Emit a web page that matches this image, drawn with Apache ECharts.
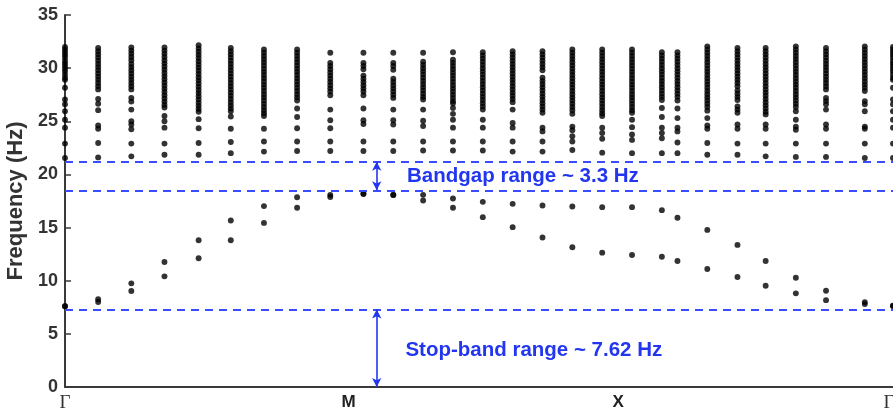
<!DOCTYPE html>
<html>
<head>
<meta charset="utf-8">
<script src="https://cdn.jsdelivr.net/npm/echarts@6/dist/echarts.min.js"></script>
<style>html,body{margin:0;padding:0;background:#fff}#c{width:893px;height:414px}</style>
</head>
<body>
<div id="c"></div>
<script>
// k-path position of each sampled column (Γ → M → X → Γ)
const kpos = [0, 1.0, 2.0, 3.0, 4.03, 5.0, 6.0, 7.0, 8.0, 9.0, 9.9, 10.8, 11.7, 12.6, 13.5, 14.4, 15.3, 16.2, 17.1, 18.0, 18.47, 19.37, 20.28, 21.13, 22.04, 22.95, 24.12, 24.97];

// two lowest branches (Hz)
const lowerA = [7.6, 8.25, 9.75, 11.76, 13.81, 15.66, 17.02, 17.85, 18.08, 18.2, 18.1, 18.08, 17.74, 17.42, 17.23, 17.08, 16.98, 16.92, 16.92, 16.64, 15.92, 14.78, 13.37, 11.86, 10.28, 9.05, 7.99, 7.65];
const lowerB = [7.6, 8.0, 9.03, 10.41, 12.11, 13.81, 15.44, 16.86, 17.87, 18.15, 18.05, 17.55, 16.86, 15.98, 15.04, 14.06, 13.15, 12.64, 12.42, 12.26, 11.86, 11.1, 10.35, 9.53, 8.81, 8.17, 7.8, 7.62];

// upper modes per column (Hz)
const upperBands = [
  [32.0,31.75,31.5,31.25,31.0,30.7,30.45,30.2,29.95,29.7,29.4,29.1,28.9,28.15,27.05,26.6,25.95,25.15,24.4,22.9,21.55],
  [31.9,31.6,31.3,31.0,30.7,30.4,30.1,29.8,29.5,29.2,28.9,28.6,28.3,28.0,27.1,26.65,26.05,24.6,24.3,22.95,21.6],
  [31.95,31.65,31.35,31.05,30.75,30.4,30.1,29.8,29.5,29.2,28.9,28.6,28.3,28.0,27.2,26.85,26.1,25.0,24.7,24.25,22.9,21.7],
  [31.95,31.65,31.35,31.05,30.75,30.45,30.15,29.85,29.55,29.25,28.95,28.65,28.35,28.05,27.75,27.45,27.15,26.85,26.55,26.3,25.5,25.0,24.4,22.9,21.85],
  [32.15,31.85,31.55,31.25,30.95,30.65,30.35,30.05,29.75,29.45,29.15,28.85,28.55,28.25,27.95,27.65,27.35,27.05,26.75,26.45,26.15,25.9,25.2,24.35,22.95,21.85],
  [31.9,31.6,31.3,31.0,30.7,30.4,30.1,29.8,29.5,29.2,28.9,28.6,28.3,28.0,27.7,27.4,27.1,26.8,26.5,26.2,25.95,25.45,24.3,23.05,22.0],
  [31.75,31.45,31.15,30.85,30.55,30.25,29.95,29.65,29.35,29.05,28.75,28.45,28.15,27.85,27.55,27.25,26.95,26.65,26.35,26.05,25.75,25.5,24.3,23.1,22.15],
  [31.75,31.45,31.15,30.85,30.55,30.25,29.95,29.65,29.35,29.05,28.75,28.45,28.15,27.85,27.55,27.25,26.95,26.2,25.4,24.35,23.1,22.2],
  [31.45,30.5,30.2,29.9,29.6,29.3,29.0,28.7,28.4,28.1,27.8,27.45,26.1,25.1,24.35,23.1,22.2],
  [31.45,30.5,30.2,29.9,29.3,29.0,28.7,28.4,28.1,27.8,27.45,26.2,25.1,24.75,23.1,22.2],
  [31.45,30.5,30.2,29.85,29.0,28.7,28.4,28.1,27.8,27.5,27.2,26.1,25.1,24.7,23.1,22.2],
  [31.45,30.6,30.3,30.0,29.7,29.4,29.1,28.8,28.5,28.2,27.9,27.6,27.3,27.05,26.1,25.05,24.55,23.1,22.25],
  [31.5,30.8,30.5,30.2,29.9,29.6,29.3,29.0,28.7,28.4,28.1,27.8,27.5,27.2,26.9,26.7,26.25,25.7,25.15,24.4,23.1,22.25],
  [31.5,31.2,30.9,30.6,30.3,30.0,29.7,29.4,29.1,28.8,28.5,28.2,27.9,27.6,27.3,27.0,26.7,26.4,26.1,25.15,24.4,23.1,22.25],
  [31.6,31.3,31.0,30.7,30.4,30.1,29.8,29.5,29.2,28.9,28.6,28.3,28.0,27.7,27.4,27.1,26.8,26.1,24.85,24.4,23.1,22.15],
  [31.6,31.3,31.0,30.7,30.4,30.1,29.8,29.1,28.8,28.5,28.2,27.9,27.6,27.3,27.0,26.7,26.4,26.1,25.8,24.4,24.05,23.1,22.15],
  [31.75,31.45,31.15,30.85,30.55,30.25,29.95,29.65,29.35,29.05,28.75,28.45,28.15,27.85,27.55,27.25,26.95,26.65,26.35,26.05,25.7,24.5,24.15,23.6,23.1,22.3],
  [31.75,31.45,31.15,30.85,30.55,30.25,29.95,29.65,29.35,29.05,28.75,28.45,28.15,27.85,27.55,27.25,26.95,26.65,26.35,26.05,25.75,25.5,24.4,23.9,23.35,22.05],
  [31.75,31.45,31.15,30.85,30.55,30.25,29.95,29.65,29.35,29.05,28.75,28.45,28.15,27.85,27.55,27.25,26.95,26.65,26.35,26.05,25.8,25.15,24.45,23.75,23.25,22.0],
  [31.5,31.2,30.9,30.6,30.3,30.0,29.7,29.4,29.1,28.8,28.5,28.2,27.9,27.6,27.3,27.0,26.25,25.4,24.4,23.9,23.4,22.0],
  [31.5,31.2,30.9,30.6,30.3,30.0,29.7,29.4,29.1,28.8,28.5,28.2,27.9,27.6,27.3,26.95,26.2,25.3,24.4,24.05,23.0,22.0],
  [32.05,31.75,31.45,31.15,30.85,30.55,30.25,29.95,29.65,29.35,29.05,28.75,28.45,28.15,27.85,27.55,27.25,26.95,26.65,26.35,26.0,25.3,24.6,24.3,22.95,21.85],
  [31.9,31.6,31.3,31.0,30.7,30.4,30.1,29.8,29.5,29.2,28.9,28.6,28.3,27.9,27.6,27.3,27.0,26.4,26.1,25.8,24.7,24.3,22.9,21.85],
  [31.9,31.6,31.3,31.0,30.7,30.4,30.1,29.8,29.5,29.2,28.9,28.6,28.3,28.0,27.7,27.4,27.1,26.8,26.5,26.2,25.9,25.65,24.7,24.3,22.9,21.7],
  [32.05,31.75,31.45,31.15,30.85,30.55,30.25,29.95,29.65,29.35,29.05,28.75,28.45,28.15,27.85,27.55,27.25,26.95,26.65,26.35,25.95,25.15,24.5,24.2,22.9,21.65],
  [31.9,31.6,31.3,31.0,30.7,30.4,30.1,29.8,29.5,29.2,28.9,28.6,28.3,28.0,27.2,26.9,26.6,26.1,24.7,24.3,22.9,21.65],
  [32.05,31.75,31.45,31.15,30.85,30.55,30.25,29.95,29.65,29.35,29.05,28.75,28.45,28.15,27.85,26.9,26.6,25.95,24.5,24.3,22.9,21.55],
  [32.0,31.75,31.5,31.25,31.0,30.7,30.45,30.2,29.95,29.7,29.4,29.1,28.9,28.15,27.05,26.6,25.95,25.15,24.4,22.9,21.55]
];

// high-symmetry point labels and their positions along the path
const tickNames = ['Γ', 'M', 'X', 'Γ'];
const tickPos = [0, 8.55, 16.68, 24.85];

// reference lines (Hz)
const gapTop = 21.2, gapBottom = 18.5, stopTop = 7.3;
const arrowK = 9.4;
const notes = ['Bandgap range ~ 3.3 Hz', 'Stop-band range ~ 7.62 Hz'];
const notePos = [[10.3, 19.8], [10.25, 3.45]];

const upperData = [];
upperBands.forEach((col, i) => col.forEach(v => upperData.push([kpos[i], v])));
const lowAData = kpos.map((k, i) => [k, lowerA[i]]);
const lowBData = kpos.map((k, i) => [k, lowerB[i]]);

const blueLine = '#3a4cff';
const blueText = '#2236f0';
const axisCol = '#3a3a3a';

const chart = echarts.init(document.getElementById('c'), null, {renderer: 'canvas'});
const dot = {type: 'scatter', symbolSize: 5.9, itemStyle: {color: '#000'}, silent: true, z: 3};

chart.setOption({
  animation: false,
  backgroundColor: '#fff',
  grid: {left: 65, right: 0, top: 15, bottom: 27, containLabel: false, outerBoundsMode: 'none'},
  xAxis: {
    type: 'value', min: 0, max: 24.97,
    axisLine: {show: true, lineStyle: {color: axisCol, width: 2}},
    axisTick: {show: false},
    splitLine: {show: false},
    axisLabel: {
      show: true, customValues: tickPos, margin: 7, showMinLabel: true, showMaxLabel: true,
      formatter: function (v, idx) {
        const j = tickPos.indexOf(v);
        const n = tickNames[j >= 0 ? j : idx];
        return n === 'Γ' ? '{g|' + n + '}' : '{b|' + n + '}';
      },
      rich: {
        g: {fontFamily: 'Liberation Serif, serif', fontSize: 19, color: '#333', fontWeight: 'normal'},
        b: {fontFamily: 'Liberation Sans, Arial, sans-serif', fontSize: 17, color: '#222', fontWeight: 'bold'}
      }
    }
  },
  yAxis: {
    type: 'value', min: 0, max: 35, interval: 5,
    name: 'Frequency (Hz)', nameLocation: 'middle', nameGap: 33,
    nameTextStyle: {fontFamily: 'Liberation Sans, Arial, sans-serif', fontSize: 22, fontWeight: 'bold', color: '#333'},
    axisLine: {show: true, lineStyle: {color: axisCol, width: 2}},
    axisTick: {show: true, inside: true, length: 6, lineStyle: {color: axisCol, width: 1.5}},
    splitLine: {show: false},
    axisLabel: {fontFamily: 'Liberation Sans, Arial, sans-serif', fontSize: 18, fontWeight: 'bold', color: '#333', margin: 7}
  },
  series: [
    Object.assign({}, dot, {name: 'upper', data: upperData}),
    Object.assign({}, dot, {name: 'lowA', data: lowAData}),
    Object.assign({}, dot, {name: 'lowB', data: lowBData}),
    {
      type: 'scatter', data: [], silent: true, z: 2,
      markLine: {
        silent: true, animation: false, symbol: 'none',
        label: {show: false},
        lineStyle: {color: blueLine, width: 2, type: [8, 6]},
        data: [{yAxis: gapTop}, {yAxis: gapBottom}, {yAxis: stopTop}]
      }
    },
    {
      type: 'scatter', data: [], silent: true, z: 4,
      markLine: {
        silent: true, animation: false, symbol: ['arrow', 'arrow'], symbolSize: [7, 9],
        label: {show: false},
        lineStyle: {color: blueText, width: 1.6, type: 'solid'},
        data: [
          [{coord: [arrowK, gapBottom]}, {coord: [arrowK, gapTop]}],
          [{coord: [arrowK, 0]}, {coord: [arrowK, stopTop]}]
        ]
      },
      markPoint: {
        silent: true, animation: false, symbol: 'circle', symbolSize: 1,
        itemStyle: {color: 'rgba(0,0,0,0)'},
        label: {
          show: true, position: 'right', distance: 0,
          fontFamily: 'Liberation Sans, Arial, sans-serif', fontSize: 20.5, fontWeight: 'bold', color: blueText,
          formatter: p => p.name
        },
        data: notes.map((t, i) => ({name: t, coord: notePos[i]}))
      }
    }
  ]
});
</script>
</body>
</html>
